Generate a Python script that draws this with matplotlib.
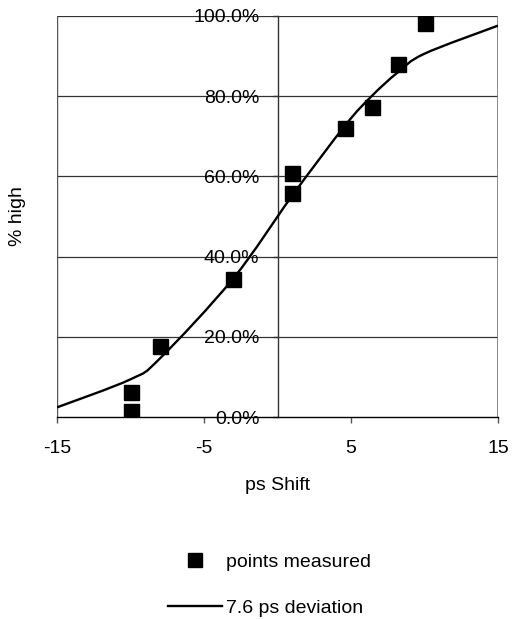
import matplotlib
matplotlib.use("Agg")
import matplotlib.pyplot as plt
from matplotlib.path import Path
from matplotlib.patches import PathPatch
from matplotlib.lines import Line2D
from matplotlib.ticker import FuncFormatter

plt.rcParams['font.family'] = ['Liberation Sans', 'DejaVu Sans']

# measured points (ps shift, % high)
pts_x = [-10, -10, -8, -3, 1, 1, 4.6, 6.4, 8.2, 10]
pts_y = [1.5, 6.3, 17.8, 34.5, 55.9, 60.9, 72.0, 77.4, 88.0, 98.3]

# fitted curve (7.6 ps deviation)
line_x = [-15, -10, -8, -3, 1, 4.6, 6.4, 8.2, 10, 15]
line_y = [2.4, 9.4, 14.6, 34.6, 55.2, 72.7, 80.0, 86.0, 90.6, 97.6]

x_ticks = [-15, -5, 5, 15]
y_ticks = [0, 20, 40, 60, 80, 100]


def smooth_path(xs, ys):
    """Excel-style smoothed line: cubic bezier through every point."""
    verts = [(xs[0], ys[0])]
    codes = [Path.MOVETO]
    n = len(xs)
    for i in range(n - 1):
        x0, y0 = xs[max(i - 1, 0)], ys[max(i - 1, 0)]
        x1, y1 = xs[i], ys[i]
        x2, y2 = xs[i + 1], ys[i + 1]
        x3, y3 = xs[min(i + 2, n - 1)], ys[min(i + 2, n - 1)]
        c1 = (x1 + (x2 - x0) / 6, y1 + (y2 - y0) / 6)
        c2 = (x2 - (x3 - x1) / 6, y2 - (y3 - y1) / 6)
        verts += [c1, c2, (x2, y2)]
        codes += [Path.CURVE4] * 3
    return Path(verts, codes)


W, H = 512, 619
fig = plt.figure(figsize=(W / 100, H / 100), dpi=100)
ax = fig.add_axes([57 / W, 1 - 417 / H, 441 / W, 401 / H])

ax.set_xlim(-15, 15)
ax.set_ylim(0, 100)

# gridlines and plot area border
for y in y_ticks[1:]:
    ax.axhline(y, color='#333333', lw=0.9, zorder=1)
ax.axvline(-15, color='#555555', lw=1.0, zorder=1)
ax.axvline(15, color='#777777', lw=1.2, zorder=1)

ax.add_patch(PathPatch(smooth_path(line_x, line_y), facecolor='none',
                       edgecolor='black', lw=1.7, zorder=3))
ax.plot(pts_x, pts_y, ls='none', marker='s', ms=10.8, color='black', zorder=4)

# y axis crosses at x = 0
ax.spines['left'].set_position(('data', 0))
ax.spines['left'].set_color('#333333')
ax.spines['left'].set_linewidth(1.0)
ax.spines['right'].set_visible(False)
ax.spines['top'].set_visible(False)
ax.spines['bottom'].set_color('black')
ax.spines['bottom'].set_linewidth(1.0)

ax.set_xticks(x_ticks)
ax.set_xticklabels([str(t) for t in x_ticks])
ax.set_yticks(y_ticks)
ax.yaxis.set_major_formatter(FuncFormatter(lambda v, p: f"{v:.1f}%"))
ax.tick_params(axis='x', direction='out', length=4.5, width=1.0,
               color='#555555', pad=12, labelsize=14)
ax.tick_params(axis='y', direction='out', length=3.5, width=1.0,
               color='#333333', pad=9.5, labelsize=14)
for lbl in ax.get_yticklabels():
    lbl.set_zorder(2)

fig.text(278 / W, 1 - 486 / H, 'ps Shift', ha='center', va='center', fontsize=14)
fig.text(18 / W, 1 - 216 / H, '% high', ha='center', va='center',
         rotation=90, fontsize=14)

handles = [Line2D([], [], ls='none', marker='s', ms=9.5, color='black'),
           Line2D([], [], color='black', lw=1.7)]
labels = ['points measured', '7.6 ps deviation']
fig.legend(handles, labels, loc='center',
           bbox_to_anchor=(269.5 / W, 1 - 585 / H), frameon=False,
           fontsize=14, handlelength=2.75, handletextpad=0.2,
           labelspacing=1.45, borderpad=0)

fig.savefig('out.png', dpi=100)
